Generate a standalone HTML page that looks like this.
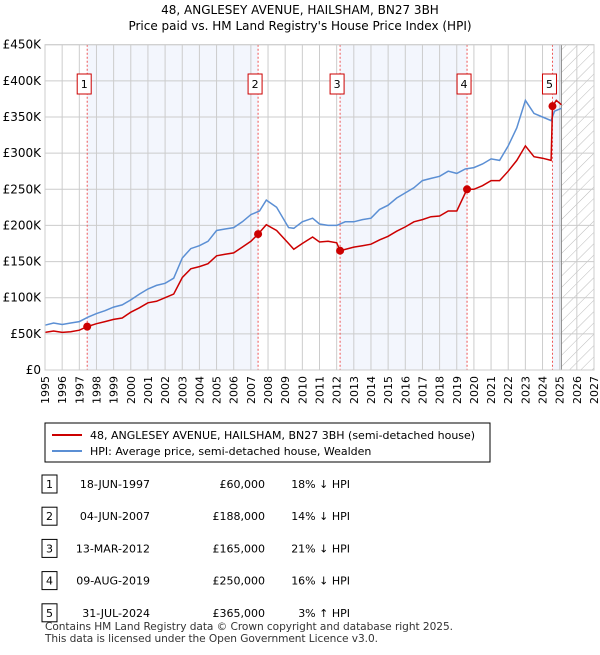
<!DOCTYPE html>
<html><head><meta charset="utf-8"><style>
body{margin:0;background:#fff;font-family:"Liberation Sans","DejaVu Sans",sans-serif;}
svg text{font-family:"DejaVu Sans","Liberation Sans",sans-serif;}
</style></head><body>
<svg id="c" width="600" height="650" viewBox="0 0 600 650">
<defs><pattern id="hatch" width="8" height="8" patternUnits="userSpaceOnUse" patternTransform="rotate(45)"><line x1="0" y1="0" x2="0" y2="8" stroke="#bbb" stroke-width="1"/></pattern></defs>
<text x="300" y="14" text-anchor="middle" font-size="12">48, ANGLESEY AVENUE, HAILSHAM, BN27 3BH</text>
<text x="300" y="30" text-anchor="middle" font-size="12">Price paid vs. HM Land Registry's House Price Index (HPI)</text>
<g id="plot"></g>
<g>
<rect x="45" y="423" width="445" height="39" fill="#fff" stroke="#000" stroke-width="1"/>
<line x1="52" y1="435" x2="82" y2="435" stroke="#cc0000" stroke-width="2"/>
<text x="90" y="439" font-size="11">48, ANGLESEY AVENUE, HAILSHAM, BN27 3BH (semi-detached house)</text>
<line x1="52" y1="451" x2="82" y2="451" stroke="#5b8fd4" stroke-width="2"/>
<text x="90" y="455" font-size="11">HPI: Average price, semi-detached house, Wealden</text>
</g>
<g id="table" font-size="11"></g>
<text x="45" y="630" font-size="10.6" fill="#333" textLength="408">Contains HM Land Registry data © Crown copyright and database right 2025.</text>
<text x="45" y="642" font-size="10.6" fill="#333" textLength="333">This data is licensed under the Open Government Licence v3.0.</text>
</svg>
<script>
const hpiDates=[1995,1995.5,1996,1996.5,1997,1997.5,1998,1998.5,1999,1999.5,2000,2000.5,2001,2001.5,2002,2002.5,2003,2003.5,2004,2004.5,2005,2005.5,2006,2006.5,2007,2007.5,2007.9,2008.5,2009.2,2009.5,2010,2010.6,2011,2011.5,2012,2012.5,2013,2013.5,2014,2014.5,2015,2015.5,2016,2016.5,2017,2017.5,2018,2018.5,2019,2019.5,2020,2020.5,2021,2021.5,2022,2022.5,2023,2023.5,2024,2024.5,2024.7,2025.1];
const hpiValues=[62,65,63,65,67,73,78,82,87,90,97,105,112,117,120,127,155,168,172,178,193,195,197,205,215,220,235,225,197,196,205,210,202,200,200,205,205,208,210,222,228,238,245,252,262,265,268,275,272,278,280,285,292,290,310,335,373,355,350,345,358,362];
const ppDates=[1995,1995.5,1996,1996.5,1997,1997.46,1998,1998.5,1999,1999.5,2000,2000.5,2001,2001.5,2002,2002.5,2003,2003.5,2004,2004.5,2005,2005.5,2006,2006.5,2007,2007.42,2007.9,2008.5,2009.2,2009.5,2010,2010.6,2011,2011.5,2012,2012.2,2013,2013.5,2014,2014.5,2015,2015.5,2016,2016.5,2017,2017.5,2018,2018.5,2019,2019.6,2020,2020.5,2021,2021.5,2022,2022.5,2023,2023.5,2024,2024.5,2024.58,2024.8,2025.1];
const ppValues=[52,54,52,53,55,60,64,67,70,72,80,86,93,95,100,105,128,140,143,147,158,160,162,170,178,188,201,193,175,167,175,184,177,178,176,165,170,172,174,180,185,192,198,205,208,212,213,220,220,250,250,255,262,262,275,290,310,295,293,290,365,373,367];
const saleNums=["1","2","3","4","5"];
const saleDates=[1997.46,2007.42,2012.2,2019.6,2024.58];
const salePrices=[60,188,165,250,365];
const saleDateLabels=["18-JUN-1997","04-JUN-2007","13-MAR-2012","09-AUG-2019","31-JUL-2024"];
const salePriceLabels=["£60,000","£188,000","£165,000","£250,000","£365,000"];
const saleHpiLabels=["18% ↓ HPI","14% ↓ HPI","21% ↓ HPI","16% ↓ HPI","3% ↑ HPI"];
const yTicks=[0,50,100,150,200,250,300,350,400,450];
const yTickLabels=["£0","£50K","£100K","£150K","£200K","£250K","£300K","£350K","£400K","£450K"];
const xYears=[];for(let y=1995;y<=2027;y++)xYears.push(y);

const NS="http://www.w3.org/2000/svg";
const X0=45,X1=594,Y0=370,Y1=44.7;
const xs=d=>X0+(d-1995)/(2027-1995)*(X1-X0);
const ys=v=>Y0-v/450*(Y0-Y1);
const plot=document.getElementById('plot');
function mk(tag,attrs,parent){const e=document.createElementNS(NS,tag);for(const k in attrs)e.setAttribute(k,attrs[k]);(parent||plot).appendChild(e);return e;}

const shadePairs=[[0,1],[2,3],[4,null]];
const nowX=2025.1;
shadePairs.forEach(p=>{const a=xs(saleDates[p[0]]),b=p[1]===null?xs(nowX):xs(saleDates[p[1]]);
const r=mk('rect',{x:a,y:Y1,width:b-a,height:Y0-Y1,fill:'#f3f6fd'});

});
const h=mk('rect',{x:xs(nowX),y:Y1,width:X1-xs(nowX),height:Y0-Y1,fill:'url(#hatch)'});


xYears.forEach(y=>{const l=mk('line',{x1:xs(y),x2:xs(y),y1:Y1,y2:Y0,stroke:'#cccccc','stroke-width':1});


const t=mk('text',{x:0,y:0,'font-size':11,'text-anchor':'end',transform:`translate(${xs(y)+4},${Y0+6}) rotate(-90)`});t.textContent=y;

});
yTicks.forEach((v,i)=>{const l=mk('line',{x1:X0,x2:X1,y1:ys(v),y2:ys(v),stroke:'#cccccc','stroke-width':1});


const t=mk('text',{x:X0-4,y:ys(v)+4,'font-size':12,'text-anchor':'end'});t.textContent=yTickLabels[i];

});
const nl=mk('line',{x1:xs(nowX),x2:xs(nowX),y1:Y1,y2:Y0,stroke:'#888','stroke-width':1});


saleDates.forEach(d=>{const l=mk('line',{x1:xs(d),x2:xs(d),y1:Y1,y2:Y0,stroke:'#ee5555','stroke-width':1,'stroke-dasharray':'2,2'});

});
function path(ds,vs){return ds.map((d,i)=>(i?'L':'M')+xs(d).toFixed(1)+','+ys(vs[i]).toFixed(1)).join('');}
const hp=mk('path',{d:path(hpiDates,hpiValues),fill:'none',stroke:'#5b8fd4','stroke-width':1.5});


const pp=mk('path',{d:path(ppDates,ppValues),fill:'none',stroke:'#cc0000','stroke-width':1.5});


saleDates.forEach((d,i)=>{const c=mk('circle',{cx:xs(d),cy:ys(salePrices[i]),r:4,fill:'#cc0000'});


const bx=xs(d)-10;
const r=mk('rect',{x:bx,y:74,width:14,height:20,fill:'#fff',stroke:'#cc0000','stroke-width':1});


const t=mk('text',{x:bx+7,y:88,'font-size':11,'text-anchor':'middle'});t.textContent=saleNums[i];

});
const fr=mk('rect',{x:X0,y:Y1,width:X1-X0,height:Y0-Y1,fill:'none',stroke:'#cccccc'});


const tb=document.getElementById('table');
saleNums.forEach((n,i)=>{const y=484+i*32.2;
const g=mk('g',{},tb);


mk('rect',{x:42,y:y-9,width:15,height:18,fill:'#fff',stroke:'#000'},g);
const a=mk('text',{x:49.5,y:y+4,'text-anchor':'middle'},g);a.textContent=n;
const b=mk('text',{x:150,y:y+4,'text-anchor':'end'},g);b.textContent=saleDateLabels[i];
const c=mk('text',{x:265,y:y+4,'text-anchor':'end'},g);c.textContent=salePriceLabels[i];
const e=mk('text',{x:350,y:y+4,'text-anchor':'end'},g);e.textContent=saleHpiLabels[i];});
</script>
</body></html>
